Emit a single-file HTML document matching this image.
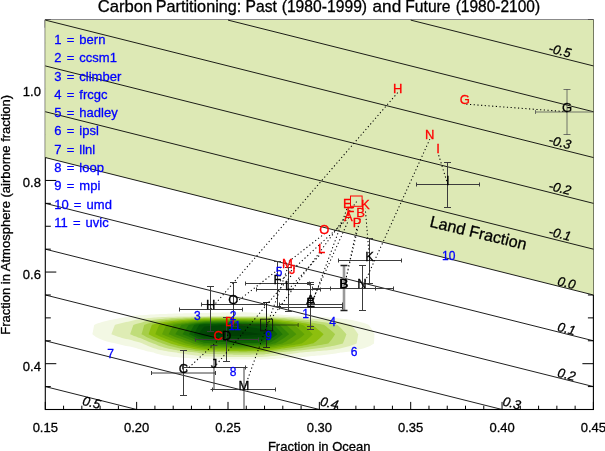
<!DOCTYPE html>
<html><head><meta charset="utf-8"><title>Carbon Partitioning</title>
<style>
html,body{margin:0;padding:0;background:#fff;}
svg{display:block;font-family:"Liberation Sans", Arial, Helvetica, sans-serif;}
text{stroke-width:0.3px;}
.k text,text.k{stroke:#000;}.r text{stroke:#f00;}.b text{stroke:#00f;}
</style></head><body>
<svg width="605" height="451" viewBox="0 0 605 451">
<rect width="605" height="451" fill="#fff"/>
<rect x="45.3" y="20.1" width="548.10" height="389.40" fill="none" stroke="#000" stroke-width="1.1"/>
<path d="M45.30 409.5v-7.6M45.30 20.1v7.6M63.57 409.5v-3.8M63.57 20.1v3.8M81.84 409.5v-3.8M81.84 20.1v3.8M100.11 409.5v-3.8M100.11 20.1v3.8M118.38 409.5v-3.8M118.38 20.1v3.8M136.65 409.5v-7.6M136.65 20.1v7.6M154.92 409.5v-3.8M154.92 20.1v3.8M173.19 409.5v-3.8M173.19 20.1v3.8M191.46 409.5v-3.8M191.46 20.1v3.8M209.73 409.5v-3.8M209.73 20.1v3.8M228.00 409.5v-7.6M228.00 20.1v7.6M246.27 409.5v-3.8M246.27 20.1v3.8M264.54 409.5v-3.8M264.54 20.1v3.8M282.81 409.5v-3.8M282.81 20.1v3.8M301.08 409.5v-3.8M301.08 20.1v3.8M319.35 409.5v-7.6M319.35 20.1v7.6M337.62 409.5v-3.8M337.62 20.1v3.8M355.89 409.5v-3.8M355.89 20.1v3.8M374.16 409.5v-3.8M374.16 20.1v3.8M392.43 409.5v-3.8M392.43 20.1v3.8M410.70 409.5v-7.6M410.70 20.1v7.6M428.97 409.5v-3.8M428.97 20.1v3.8M447.24 409.5v-3.8M447.24 20.1v3.8M465.51 409.5v-3.8M465.51 20.1v3.8M483.78 409.5v-3.8M483.78 20.1v3.8M502.05 409.5v-7.6M502.05 20.1v7.6M520.32 409.5v-3.8M520.32 20.1v3.8M538.59 409.5v-3.8M538.59 20.1v3.8M556.86 409.5v-3.8M556.86 20.1v3.8M575.13 409.5v-3.8M575.13 20.1v3.8M593.40 409.5v-7.6M593.40 20.1v7.6M45.3 409.50h5.5M593.4 409.50h-5.5M45.3 386.59h5.5M593.4 386.59h-5.5M45.3 363.69h11M593.4 363.69h-11M45.3 340.78h5.5M593.4 340.78h-5.5M45.3 317.88h5.5M593.4 317.88h-5.5M45.3 294.97h5.5M593.4 294.97h-5.5M45.3 272.06h11M593.4 272.06h-11M45.3 249.16h5.5M593.4 249.16h-5.5M45.3 226.25h5.5M593.4 226.25h-5.5M45.3 203.35h5.5M593.4 203.35h-5.5M45.3 180.44h11M593.4 180.44h-11M45.3 157.54h5.5M593.4 157.54h-5.5M45.3 134.63h5.5M593.4 134.63h-5.5M45.3 111.72h5.5M593.4 111.72h-5.5M45.3 88.82h11M593.4 88.82h-11M45.3 65.91h5.5M593.4 65.91h-5.5M45.3 43.01h5.5M593.4 43.01h-5.5M45.3 20.10h5.5M593.4 20.10h-5.5" stroke="#000" stroke-width="1" fill="none"/>
<polygon points="45.20,20.00 593.50,20.00 593.50,294.97 45.20,157.54" fill="#dde9b5"/>
<polygon points="135.2,315.7 136.0,315.6 138.0,315.4 140.0,315.3 142.0,315.2 144.0,315.0 146.0,314.9 148.0,314.8 150.0,314.6 152.0,314.5 154.0,314.4 156.0,314.3 158.0,314.2 160.0,314.1 162.0,314.0 164.0,313.9 166.0,313.9 168.0,313.8 170.0,313.7 172.0,313.7 174.0,313.6 176.0,313.6 178.0,313.5 180.0,313.4 182.0,313.4 184.0,313.3 186.0,313.3 188.0,313.2 190.0,313.2 192.0,313.2 194.0,313.1 196.0,313.1 198.0,313.0 200.0,313.0 202.0,313.0 204.0,312.9 206.0,312.9 208.0,312.9 210.0,312.8 212.0,312.8 214.0,312.8 216.0,312.7 218.0,312.7 220.0,312.7 222.0,312.6 224.0,312.6 226.0,312.6 228.0,312.5 230.0,312.5 232.0,312.5 234.0,312.4 236.0,312.4 238.0,312.4 240.0,312.4 242.0,312.3 244.0,312.3 246.0,312.3 248.0,312.4 250.0,312.5 252.0,312.6 254.0,312.7 256.0,312.8 258.0,312.9 260.0,313.1 262.0,313.2 264.0,313.3 266.0,313.4 268.0,313.6 270.0,313.7 272.0,313.9 274.0,314.0 276.0,314.2 278.0,314.3 280.0,314.5 282.0,314.7 284.0,314.9 286.0,315.1 288.0,315.3 290.0,315.5 292.0,315.7 292.0,315.7 294.0,315.7 296.0,315.8 298.0,315.8 300.0,315.9 302.0,315.9 304.0,316.0 306.0,316.1 308.0,316.2 310.0,316.3 312.0,316.4 314.0,316.5 316.0,316.6 318.0,316.8 320.0,316.9 322.0,317.0 324.0,317.2 326.0,317.3 328.0,317.5 330.0,317.7 332.0,317.8 334.0,317.9 336.0,318.1 338.0,318.3 340.0,318.5 342.0,318.7 344.0,318.9 346.0,319.1 348.0,319.4 350.0,319.7 352.0,320.1 354.0,320.5 356.0,320.9 358.0,321.5 360.0,322.0 362.0,322.5 364.0,323.1 366.0,323.7 368.0,324.5 368.9,324.9 370.0,326.4 372.0,329.4 374.0,333.1 374.5,334.2 374.0,343.3 374.0,343.4 372.0,344.8 370.0,345.9 368.0,346.8 366.0,347.6 364.0,348.2 362.0,348.8 360.0,349.3 358.0,349.7 356.0,350.2 354.0,350.7 352.0,351.0 350.0,351.4 348.0,351.7 346.0,352.0 344.0,352.2 342.0,352.4 340.2,352.6 340.0,352.7 338.0,353.0 336.0,353.4 334.0,353.7 332.0,354.0 330.0,354.3 328.0,354.6 326.0,354.8 324.0,355.0 322.0,355.2 320.0,355.4 318.0,355.6 316.0,355.8 314.0,355.9 312.0,356.1 310.0,356.3 308.0,356.5 306.0,356.7 304.0,356.9 302.0,357.1 300.0,357.2 298.0,357.4 296.0,357.5 294.0,357.7 292.0,357.8 290.0,357.9 288.0,358.0 286.0,358.2 284.0,358.3 282.0,358.4 280.0,358.5 278.0,358.6 276.0,358.7 274.0,358.9 272.0,359.0 270.0,359.1 268.0,359.2 266.0,359.2 264.0,359.3 262.0,359.4 260.0,359.4 258.0,359.4 256.0,359.4 254.0,359.4 252.0,359.4 250.0,359.4 248.0,359.4 246.0,359.4 244.0,359.5 242.0,359.4 240.0,359.4 238.0,359.4 236.0,359.4 234.0,359.4 232.0,359.4 230.0,359.4 228.0,359.4 226.0,359.3 224.0,359.3 222.0,359.3 220.0,359.3 218.0,359.3 216.0,359.2 214.0,359.2 212.0,359.2 210.0,359.2 208.0,359.1 206.0,359.1 204.0,359.1 202.0,359.0 200.0,358.9 198.0,358.8 196.0,358.7 194.0,358.6 192.0,358.4 190.0,358.3 188.0,358.1 186.0,358.0 184.0,357.9 182.0,357.7 180.0,357.5 178.0,357.3 176.0,357.1 174.0,356.9 172.0,356.7 170.0,356.4 168.0,356.1 166.0,355.8 164.0,355.4 162.0,355.0 160.0,354.6 158.0,354.0 156.0,353.4 154.0,352.7 153.9,352.6 152.0,352.2 150.0,351.8 148.0,351.4 146.0,350.9 144.0,350.3 142.0,349.7 140.0,349.2 138.0,348.7 136.0,348.1 134.0,347.6 132.0,347.1 130.0,346.6 128.0,346.3 126.0,345.9 124.0,345.5 122.0,345.1 120.0,344.6 118.0,344.1 116.0,343.5 115.6,343.4 114.0,343.1 112.0,342.7 110.0,342.2 108.0,341.7 106.0,341.2 104.0,340.5 102.0,339.8 100.0,339.0 98.0,338.0 96.0,336.9 94.0,335.5 92.4,334.2 94.0,325.8 94.2,324.9 96.0,324.1 98.0,323.3 100.0,322.7 102.0,322.0 104.0,321.5 106.0,321.0 108.0,320.5 110.0,320.1 112.0,319.7 114.0,319.3 116.0,318.9 118.0,318.5 120.0,318.1 122.0,317.7 124.0,317.4 126.0,317.0 128.0,316.7 130.0,316.4 132.0,316.1 134.0,315.8 135.2,315.7" fill="rgb(243,248,228)"/>
<polygon points="114.9,324.9 116.0,324.6 118.0,324.1 120.0,323.6 122.0,323.1 124.0,322.6 126.0,322.1 128.0,321.7 130.0,321.3 132.0,320.7 134.0,320.2 136.0,319.8 138.0,319.5 140.0,319.2 142.0,319.0 144.0,318.6 146.0,318.4 148.0,318.1 150.0,317.9 152.0,317.7 154.0,317.6 156.0,317.4 158.0,317.3 160.0,317.2 162.0,317.1 164.0,317.0 166.0,316.9 168.0,316.8 170.0,316.8 172.0,316.7 174.0,316.7 176.0,316.6 178.0,316.6 180.0,316.5 182.0,316.5 184.0,316.4 186.0,316.4 188.0,316.4 190.0,316.4 192.0,316.3 194.0,316.3 196.0,316.3 198.0,316.2 200.0,316.2 202.0,316.2 204.0,316.2 206.0,316.2 208.0,316.1 210.0,316.1 212.0,316.1 214.0,316.1 216.0,316.1 218.0,316.1 220.0,316.1 222.0,316.1 224.0,316.1 226.0,316.1 228.0,316.1 230.0,316.1 232.0,316.1 234.0,316.1 236.0,316.1 238.0,316.1 240.0,316.0 242.0,316.0 244.0,316.0 246.0,316.0 248.0,316.1 250.0,316.1 252.0,316.1 254.0,316.1 256.0,316.2 258.0,316.2 260.0,316.2 262.0,316.2 264.0,316.3 266.0,316.3 268.0,316.3 270.0,316.4 272.0,316.5 274.0,316.5 276.0,316.6 278.0,316.6 280.0,316.7 282.0,316.8 284.0,316.8 286.0,316.9 288.0,317.0 290.0,317.1 292.0,317.2 294.0,317.3 296.0,317.4 298.0,317.5 300.0,317.6 302.0,317.7 304.0,317.8 306.0,318.0 308.0,318.2 310.0,318.3 312.0,318.5 314.0,318.7 316.0,318.9 318.0,319.1 320.0,319.3 322.0,319.5 324.0,319.7 326.0,320.0 328.0,320.2 330.0,320.5 332.0,320.8 334.0,321.0 336.0,321.3 338.0,321.7 340.0,322.0 342.0,322.4 344.0,322.9 346.0,323.4 348.0,323.9 350.0,324.5 351.2,324.9 352.0,325.8 354.0,328.2 356.0,330.9 358.0,333.9 358.3,334.2 358.0,335.5 356.6,343.4 356.0,343.7 354.0,344.6 352.0,345.3 350.0,346.0 348.0,346.6 346.0,347.1 344.0,347.6 342.0,348.0 340.0,348.4 338.0,348.8 336.0,349.1 334.0,349.4 332.0,349.7 330.0,349.9 328.0,350.2 326.0,350.4 324.0,350.6 322.0,350.8 320.0,350.9 318.0,351.1 316.0,351.3 314.0,351.4 312.0,351.6 310.0,351.8 308.0,352.0 306.0,352.1 304.0,352.3 302.0,352.5 300.2,352.6 300.0,352.6 298.0,352.9 296.0,353.2 294.0,353.5 292.0,353.8 290.0,354.0 288.0,354.3 286.0,354.5 284.0,354.8 282.0,355.0 280.0,355.2 278.0,355.5 276.0,355.7 274.0,355.9 272.0,356.1 270.0,356.3 268.0,356.5 266.0,356.7 264.0,356.8 262.0,356.9 260.0,356.9 258.0,357.0 256.0,357.0 254.0,357.0 252.0,357.0 250.0,357.1 248.0,357.1 246.0,357.1 244.0,357.1 242.0,357.1 240.0,357.1 238.0,357.1 236.0,357.1 234.0,357.1 232.0,357.0 230.0,357.0 228.0,356.9 226.0,356.9 224.0,356.9 222.0,356.8 220.0,356.8 218.0,356.7 216.0,356.7 214.0,356.6 212.0,356.6 210.0,356.5 208.0,356.5 206.0,356.4 204.0,356.4 202.0,356.2 200.0,356.0 198.0,355.8 196.0,355.6 194.0,355.3 192.0,355.0 190.0,354.8 188.0,354.5 186.0,354.2 184.0,354.0 182.0,353.6 180.0,353.3 178.0,352.9 176.6,352.6 176.0,352.5 174.0,352.3 172.0,352.0 170.0,351.7 168.0,351.4 166.0,351.1 164.0,350.7 162.0,350.3 160.0,349.9 158.0,349.4 156.0,348.8 154.0,348.2 152.0,347.5 150.0,346.8 148.0,346.0 146.0,345.1 144.0,344.2 142.6,343.4 142.0,343.2 140.0,342.6 138.0,342.0 136.0,341.4 134.0,340.9 132.0,340.3 130.0,339.7 128.0,339.3 126.0,338.9 124.0,338.4 122.0,337.9 120.0,337.3 118.0,336.7 116.0,336.0 114.0,335.3 112.0,334.5 111.4,334.2 112.0,332.5 114.0,327.2 114.9,324.9" fill="rgb(222,236,180)"/>
<polygon points="133.4,324.9 134.0,324.7 136.0,324.0 138.0,323.5 140.0,322.9 142.0,322.4 144.0,321.8 146.0,321.3 148.0,320.8 150.0,320.4 152.0,320.1 154.0,319.8 156.0,319.5 158.0,319.3 160.0,319.0 162.0,318.9 164.0,318.7 166.0,318.5 168.0,318.4 170.0,318.3 172.0,318.1 174.0,318.0 176.0,317.9 178.0,317.8 180.0,317.8 182.0,317.7 184.0,317.6 186.0,317.5 188.0,317.5 190.0,317.4 192.0,317.3 194.0,317.2 196.0,317.2 198.0,317.1 200.0,317.1 202.0,317.0 204.0,317.0 206.0,317.0 208.0,317.0 210.0,317.0 212.0,316.9 214.0,316.9 216.0,316.9 218.0,316.9 220.0,316.9 222.0,316.9 224.0,316.9 226.0,316.9 228.0,316.9 230.0,316.9 232.0,316.9 234.0,316.9 236.0,316.9 238.0,316.9 240.0,316.9 242.0,316.9 244.0,316.9 246.0,316.9 248.0,316.9 250.0,316.9 252.0,317.0 254.0,317.0 256.0,317.0 258.0,317.0 260.0,317.1 262.0,317.1 264.0,317.1 266.0,317.2 268.0,317.3 270.0,317.4 272.0,317.5 274.0,317.6 276.0,317.7 278.0,317.8 280.0,317.9 282.0,318.0 284.0,318.1 286.0,318.2 288.0,318.4 290.0,318.5 292.0,318.6 294.0,318.8 296.0,318.9 298.0,319.1 300.0,319.3 302.0,319.4 304.0,319.7 306.0,319.9 308.0,320.1 310.0,320.3 312.0,320.6 314.0,320.9 316.0,321.1 318.0,321.4 320.0,321.7 322.0,322.0 324.0,322.3 326.0,322.6 328.0,323.0 330.0,323.3 332.0,323.7 334.0,324.1 336.0,324.6 337.4,324.9 338.0,325.4 340.0,327.3 342.0,329.3 344.0,331.4 346.0,333.7 346.4,334.2 346.0,335.4 344.0,340.7 342.8,343.4 342.0,343.7 340.0,344.2 338.0,344.8 336.0,345.3 334.0,345.7 332.0,346.1 330.0,346.5 328.0,346.8 326.0,347.1 324.0,347.4 322.0,347.7 320.0,348.0 318.0,348.2 316.0,348.5 314.0,348.7 312.0,348.9 310.0,349.2 308.0,349.5 306.0,349.7 304.0,350.0 302.0,350.2 300.0,350.4 298.0,350.6 296.0,350.8 294.0,351.0 292.0,351.2 290.0,351.4 288.0,351.6 286.0,351.7 284.0,351.9 282.0,352.1 280.0,352.3 278.0,352.4 276.3,352.6 276.0,352.6 274.0,353.0 272.0,353.3 270.0,353.6 268.0,353.9 266.0,354.1 264.0,354.4 262.0,354.5 260.0,354.5 258.0,354.5 256.0,354.6 254.0,354.6 252.0,354.6 250.0,354.7 248.0,354.7 246.0,354.7 244.0,354.8 242.0,354.7 240.0,354.7 238.0,354.7 236.0,354.7 234.0,354.7 232.0,354.6 230.0,354.6 228.0,354.5 226.0,354.4 224.0,354.4 222.0,354.3 220.0,354.2 218.0,354.2 216.0,354.1 214.0,354.0 212.0,354.0 210.0,353.9 208.0,353.8 206.0,353.8 204.0,353.7 202.0,353.4 200.0,353.2 198.0,352.8 196.7,352.6 196.0,352.5 194.0,352.3 192.0,352.1 190.0,351.9 188.0,351.7 186.0,351.5 184.0,351.2 182.0,351.0 180.0,350.7 178.0,350.4 176.0,350.1 174.0,349.7 172.0,349.3 170.0,348.9 168.0,348.4 166.0,347.9 164.0,347.4 162.0,346.8 160.0,346.2 158.0,345.4 156.0,344.6 154.0,343.8 153.1,343.4 152.0,343.0 150.0,342.2 148.0,341.5 146.0,340.6 144.0,339.8 142.0,338.8 140.0,338.1 138.0,337.4 136.0,336.6 134.0,335.9 132.0,335.0 130.1,334.2 132.0,328.8 133.4,324.9" fill="rgb(192,221,122)"/>
<polygon points="144.2,324.9 146.0,324.2 148.0,323.6 150.0,323.0 152.0,322.5 154.0,322.0 156.0,321.6 158.0,321.2 160.0,320.9 162.0,320.6 164.0,320.4 166.0,320.1 168.0,319.9 170.0,319.7 172.0,319.6 174.0,319.4 176.0,319.2 178.0,319.1 180.0,319.0 182.0,318.9 184.0,318.8 186.0,318.6 188.0,318.5 190.0,318.4 192.0,318.3 194.0,318.2 196.0,318.1 198.0,318.0 200.0,317.9 202.0,317.9 204.0,317.8 206.0,317.8 208.0,317.8 210.0,317.8 212.0,317.8 214.0,317.7 216.0,317.7 218.0,317.7 220.0,317.7 222.0,317.7 224.0,317.7 226.0,317.7 228.0,317.7 230.0,317.7 232.0,317.7 234.0,317.7 236.0,317.6 238.0,317.7 240.0,317.7 242.0,317.7 244.0,317.7 246.0,317.7 248.0,317.7 250.0,317.8 252.0,317.8 254.0,317.8 256.0,317.8 258.0,317.9 260.0,317.9 262.0,317.9 264.0,318.0 266.0,318.1 268.0,318.2 270.0,318.3 272.0,318.5 274.0,318.6 276.0,318.7 278.0,318.9 280.0,319.1 282.0,319.2 284.0,319.4 286.0,319.6 288.0,319.7 290.0,319.9 292.0,320.1 294.0,320.3 296.0,320.5 298.0,320.7 300.0,321.0 302.0,321.2 304.0,321.5 306.0,321.7 308.0,322.0 310.0,322.4 312.0,322.7 314.0,323.1 316.0,323.4 318.0,323.7 320.0,324.1 322.0,324.4 324.0,324.8 324.3,324.9 326.0,326.3 328.0,327.9 330.0,329.5 332.0,331.3 334.0,333.1 335.1,334.2 334.0,336.1 332.0,339.0 330.0,341.6 328.3,343.4 328.0,343.5 326.0,343.9 324.0,344.3 322.0,344.7 320.0,345.0 318.0,345.3 316.0,345.7 314.0,346.0 312.0,346.3 310.0,346.6 308.0,347.0 306.0,347.3 304.0,347.6 302.0,347.9 300.0,348.2 298.0,348.5 296.0,348.7 294.0,349.0 292.0,349.2 290.0,349.5 288.0,349.7 286.0,349.9 284.0,350.1 282.0,350.4 280.0,350.6 278.0,350.8 276.0,351.1 274.0,351.3 272.0,351.5 270.0,351.7 268.0,351.9 266.0,352.1 264.0,352.2 262.0,352.3 260.0,352.3 258.0,352.3 256.0,352.4 254.0,352.4 252.0,352.4 250.0,352.4 248.0,352.5 246.0,352.5 244.0,352.5 242.0,352.5 240.0,352.5 238.0,352.5 236.0,352.5 234.0,352.4 232.0,352.4 230.0,352.4 228.0,352.3 226.0,352.3 224.0,352.2 222.0,352.2 220.0,352.1 218.0,352.1 216.0,352.0 214.0,352.0 212.0,351.9 210.0,351.9 208.0,351.8 206.0,351.8 204.0,351.7 202.0,351.5 200.0,351.3 198.0,351.1 196.0,350.9 194.0,350.6 192.0,350.3 190.0,350.0 188.0,349.7 186.0,349.5 184.0,349.2 182.0,348.8 180.0,348.4 178.0,348.0 176.0,347.6 174.0,347.1 172.0,346.6 170.0,346.1 168.0,345.4 166.0,344.8 164.0,344.1 162.3,343.4 162.0,343.3 160.0,342.6 158.0,341.9 156.0,341.1 154.0,340.3 152.0,339.5 150.0,338.6 148.0,337.7 146.0,336.7 144.0,335.6 142.0,334.4 141.4,334.2 142.0,332.7 144.0,325.7 144.2,324.9" fill="rgb(166,206,72)"/>
<polygon points="151.8,324.9 152.0,324.8 154.0,324.2 156.0,323.7 158.0,323.2 160.0,322.8 162.0,322.4 164.0,322.1 166.0,321.8 168.0,321.5 170.0,321.2 172.0,321.0 174.0,320.7 176.0,320.6 178.0,320.4 180.0,320.2 182.0,320.1 184.0,319.9 186.0,319.8 188.0,319.6 190.0,319.5 192.0,319.3 194.0,319.2 196.0,319.0 198.0,318.9 200.0,318.8 202.0,318.7 204.0,318.6 206.0,318.6 208.0,318.6 210.0,318.6 212.0,318.6 214.0,318.5 216.0,318.5 218.0,318.5 220.0,318.5 222.0,318.5 224.0,318.5 226.0,318.5 228.0,318.5 230.0,318.5 232.0,318.5 234.0,318.4 236.0,318.4 238.0,318.5 240.0,318.5 242.0,318.5 244.0,318.5 246.0,318.5 248.0,318.6 250.0,318.6 252.0,318.6 254.0,318.7 256.0,318.7 258.0,318.7 260.0,318.8 262.0,318.8 264.0,318.9 266.0,319.0 268.0,319.1 270.0,319.3 272.0,319.5 274.0,319.6 276.0,319.8 278.0,320.0 280.0,320.2 282.0,320.5 284.0,320.7 286.0,320.9 288.0,321.1 290.0,321.3 292.0,321.6 294.0,321.8 296.0,322.1 298.0,322.4 300.0,322.6 302.0,323.0 304.0,323.3 306.0,323.6 308.0,324.0 310.0,324.4 312.0,324.8 312.4,324.9 314.0,326.3 316.0,327.8 318.0,329.4 320.0,331.1 322.0,332.8 323.6,334.2 322.0,336.0 320.0,338.1 318.0,339.8 316.0,341.4 314.0,342.8 313.1,343.4 312.0,343.6 310.0,344.1 308.0,344.5 306.0,344.9 304.0,345.3 302.0,345.7 300.0,346.0 298.0,346.3 296.0,346.6 294.0,346.9 292.0,347.2 290.0,347.5 288.0,347.8 286.0,348.1 284.0,348.4 282.0,348.6 280.0,348.9 278.0,349.2 276.0,349.5 274.0,349.7 272.0,350.0 270.0,350.3 268.0,350.5 266.0,350.7 264.0,350.9 262.0,351.0 260.0,351.0 258.0,351.0 256.0,351.0 254.0,351.1 252.0,351.1 250.0,351.1 248.0,351.1 246.0,351.2 244.0,351.2 242.0,351.2 240.0,351.2 238.0,351.1 236.0,351.1 234.0,351.1 232.0,351.1 230.0,351.0 228.0,351.0 226.0,350.9 224.0,350.8 222.0,350.8 220.0,350.7 218.0,350.7 216.0,350.6 214.0,350.6 212.0,350.5 210.0,350.4 208.0,350.4 206.0,350.3 204.0,350.3 202.0,350.0 200.0,349.8 198.0,349.5 196.0,349.2 194.0,348.9 192.0,348.5 190.0,348.1 188.0,347.8 186.0,347.5 184.0,347.1 182.0,346.6 180.0,346.1 178.0,345.7 176.0,345.1 174.0,344.5 172.0,343.9 170.5,343.4 170.0,343.2 168.0,342.5 166.0,341.8 164.0,341.0 162.0,340.3 160.0,339.5 158.0,338.7 156.0,337.8 154.0,336.9 152.0,336.0 150.0,335.0 148.6,334.2 150.0,329.9 151.8,324.9" fill="rgb(141,191,14)"/>
<polygon points="159.1,324.9 160.0,324.7 162.0,324.2 164.0,323.8 166.0,323.4 168.0,323.0 170.0,322.7 172.0,322.4 174.0,322.1 176.0,321.9 178.0,321.6 180.0,321.4 182.0,321.3 184.0,321.1 186.0,320.9 188.0,320.7 190.0,320.5 192.0,320.3 194.0,320.1 196.0,319.9 198.0,319.8 200.0,319.6 202.0,319.5 204.0,319.4 206.0,319.4 208.0,319.4 210.0,319.4 212.0,319.4 214.0,319.4 216.0,319.3 218.0,319.3 220.0,319.3 222.0,319.3 224.0,319.3 226.0,319.3 228.0,319.3 230.0,319.3 232.0,319.3 234.0,319.2 236.0,319.2 238.0,319.3 240.0,319.3 242.0,319.3 244.0,319.3 246.0,319.3 248.0,319.4 250.0,319.4 252.0,319.5 254.0,319.5 256.0,319.5 258.0,319.6 260.0,319.6 262.0,319.6 264.0,319.7 266.0,319.9 268.0,320.1 270.0,320.3 272.0,320.5 274.0,320.7 276.0,320.9 278.0,321.2 280.0,321.4 282.0,321.7 284.0,321.9 286.0,322.2 288.0,322.5 290.0,322.8 292.0,323.0 294.0,323.4 296.0,323.7 298.0,324.0 300.0,324.3 302.0,324.7 303.0,324.9 304.0,325.7 306.0,327.5 308.0,329.4 310.0,331.4 312.0,333.4 312.8,334.2 312.0,335.0 310.0,337.0 308.0,338.8 306.0,340.5 304.0,342.0 302.0,343.3 301.9,343.4 300.0,343.8 298.0,344.2 296.0,344.5 294.0,344.9 292.0,345.3 290.0,345.6 288.0,345.9 286.0,346.3 284.0,346.6 282.0,346.9 280.0,347.3 278.0,347.6 276.0,347.9 274.0,348.2 272.0,348.5 270.0,348.8 268.0,349.1 266.0,349.3 264.0,349.6 262.0,349.7 260.0,349.7 258.0,349.7 256.0,349.7 254.0,349.7 252.0,349.8 250.0,349.8 248.0,349.8 246.0,349.8 244.0,349.8 242.0,349.8 240.0,349.8 238.0,349.8 236.0,349.8 234.0,349.8 232.0,349.7 230.0,349.7 228.0,349.6 226.0,349.5 224.0,349.5 222.0,349.4 220.0,349.3 218.0,349.3 216.0,349.2 214.0,349.2 212.0,349.1 210.0,349.0 208.0,348.9 206.0,348.9 204.0,348.8 202.0,348.5 200.0,348.3 198.0,347.9 196.0,347.6 194.0,347.1 192.0,346.7 190.0,346.3 188.0,345.9 186.0,345.5 184.0,345.0 182.0,344.4 180.0,343.9 178.4,343.4 178.0,343.3 176.0,342.6 174.0,341.9 172.0,341.1 170.0,340.4 168.0,339.6 166.0,338.9 164.0,338.1 162.0,337.2 160.0,336.4 158.0,335.5 156.0,334.5 155.3,334.2 156.0,332.3 158.0,327.4 159.1,324.9" fill="rgb(116,176,6)"/>
<polygon points="166.3,324.9 168.0,324.5 170.0,324.2 172.0,323.8 174.0,323.5 176.0,323.2 178.0,322.9 180.0,322.7 182.0,322.4 184.0,322.2 186.0,322.0 188.0,321.8 190.0,321.6 192.0,321.3 194.0,321.1 196.0,320.9 198.0,320.7 200.0,320.5 202.0,320.4 204.0,320.2 206.0,320.2 208.0,320.2 210.0,320.2 212.0,320.2 214.0,320.2 216.0,320.1 218.0,320.1 220.0,320.1 222.0,320.1 224.0,320.1 226.0,320.1 228.0,320.1 230.0,320.1 232.0,320.0 234.0,320.0 236.0,320.0 238.0,320.1 240.0,320.1 242.0,320.1 244.0,320.1 246.0,320.2 248.0,320.2 250.0,320.3 252.0,320.3 254.0,320.3 256.0,320.4 258.0,320.4 260.0,320.5 262.0,320.5 264.0,320.6 266.0,320.8 268.0,321.0 270.0,321.2 272.0,321.5 274.0,321.7 276.0,322.0 278.0,322.3 280.0,322.6 282.0,322.9 284.0,323.2 286.0,323.5 288.0,323.8 290.0,324.2 292.0,324.5 294.0,324.9 294.1,324.9 296.0,326.6 298.0,328.3 300.0,330.0 302.0,331.8 304.0,333.7 304.5,334.2 304.0,334.7 302.0,336.4 300.0,337.9 298.0,339.3 296.0,340.6 294.0,341.9 292.0,343.1 291.4,343.4 290.0,343.7 288.0,344.1 286.0,344.5 284.0,344.8 282.0,345.2 280.0,345.6 278.0,346.0 276.0,346.3 274.0,346.7 272.0,347.0 270.0,347.4 268.0,347.7 266.0,348.0 264.0,348.2 262.0,348.4 260.0,348.4 258.0,348.4 256.0,348.4 254.0,348.4 252.0,348.4 250.0,348.5 248.0,348.5 246.0,348.5 244.0,348.5 242.0,348.5 240.0,348.5 238.0,348.5 236.0,348.5 234.0,348.5 232.0,348.4 230.0,348.3 228.0,348.3 226.0,348.2 224.0,348.1 222.0,348.0 220.0,348.0 218.0,347.9 216.0,347.8 214.0,347.7 212.0,347.7 210.0,347.6 208.0,347.5 206.0,347.4 204.0,347.3 202.0,347.0 200.0,346.7 198.0,346.3 196.0,345.9 194.0,345.4 192.0,344.9 190.0,344.4 188.0,343.9 186.0,343.5 185.7,343.4 184.0,342.7 182.0,342.0 180.0,341.3 178.0,340.6 176.0,339.9 174.0,339.1 172.0,338.4 170.0,337.6 168.0,336.8 166.0,336.0 164.0,335.1 162.0,334.2 164.0,329.7 166.0,325.6 166.3,324.9" fill="rgb(95,161,5)"/>
<polygon points="173.6,324.9 174.0,324.8 176.0,324.5 178.0,324.2 180.0,323.9 182.0,323.6 184.0,323.4 186.0,323.1 188.0,322.9 190.0,322.6 192.0,322.3 194.0,322.0 196.0,321.8 198.0,321.5 200.0,321.4 202.0,321.2 204.0,321.0 206.0,321.0 208.0,321.0 210.0,321.0 212.0,321.0 214.0,321.0 216.0,321.0 218.0,320.9 220.0,320.9 222.0,320.9 224.0,320.9 226.0,320.9 228.0,320.9 230.0,320.9 232.0,320.8 234.0,320.8 236.0,320.8 238.0,320.9 240.0,320.9 242.0,320.9 244.0,321.0 246.0,321.0 248.0,321.0 250.0,321.1 252.0,321.1 254.0,321.2 256.0,321.2 258.0,321.3 260.0,321.3 262.0,321.4 264.0,321.5 266.0,321.7 268.0,321.9 270.0,322.2 272.0,322.5 274.0,322.8 276.0,323.1 278.0,323.4 280.0,323.8 282.0,324.1 284.0,324.5 286.0,324.8 286.3,324.9 288.0,326.4 290.0,328.3 292.0,330.0 294.0,331.9 296.0,333.8 296.4,334.2 296.0,334.5 294.0,336.1 292.0,337.5 290.0,338.8 288.0,340.1 286.0,341.4 284.0,342.5 282.3,343.4 282.0,343.5 280.0,343.9 278.0,344.3 276.0,344.8 274.0,345.2 272.0,345.6 270.0,345.9 268.0,346.3 266.0,346.6 264.0,346.9 262.0,347.0 260.0,347.1 258.0,347.1 256.0,347.1 254.0,347.1 252.0,347.1 250.0,347.1 248.0,347.1 246.0,347.2 244.0,347.2 242.0,347.2 240.0,347.2 238.0,347.2 236.0,347.2 234.0,347.1 232.0,347.1 230.0,347.0 228.0,346.9 226.0,346.8 224.0,346.7 222.0,346.7 220.0,346.6 218.0,346.5 216.0,346.4 214.0,346.3 212.0,346.2 210.0,346.2 208.0,346.1 206.0,346.0 204.0,345.9 202.0,345.5 200.0,345.2 198.0,344.7 196.0,344.2 194.0,343.7 193.0,343.4 192.0,343.0 190.0,342.2 188.0,341.5 186.0,340.9 184.0,340.1 182.0,339.3 180.0,338.6 178.0,337.9 176.0,337.2 174.0,336.4 172.0,335.6 170.0,334.8 168.6,334.2 170.0,331.4 172.0,327.7 173.6,324.9" fill="rgb(71,146,5)"/>
<polygon points="181.5,324.9 182.0,324.8 184.0,324.5 186.0,324.2 188.0,323.9 190.0,323.6 192.0,323.3 194.0,323.0 196.0,322.7 198.0,322.4 200.0,322.2 202.0,322.0 204.0,321.9 206.0,321.8 208.0,321.8 210.0,321.8 212.0,321.8 214.0,321.8 216.0,321.8 218.0,321.7 220.0,321.7 222.0,321.7 224.0,321.7 226.0,321.7 228.0,321.7 230.0,321.7 232.0,321.6 234.0,321.6 236.0,321.6 238.0,321.7 240.0,321.7 242.0,321.7 244.0,321.8 246.0,321.8 248.0,321.9 250.0,321.9 252.0,322.0 254.0,322.0 256.0,322.1 258.0,322.1 260.0,322.2 262.0,322.2 264.0,322.3 266.0,322.6 268.0,322.9 270.0,323.2 272.0,323.5 274.0,323.8 276.0,324.2 278.0,324.6 279.7,324.9 280.0,325.2 282.0,327.2 284.0,329.2 286.0,331.1 288.0,333.1 289.2,334.2 288.0,335.1 286.0,336.5 284.0,337.9 282.0,339.2 280.0,340.5 278.0,341.7 276.0,342.9 275.1,343.4 274.0,343.6 272.0,344.1 270.0,344.5 268.0,344.9 266.0,345.3 264.0,345.6 262.0,345.7 260.0,345.7 258.0,345.8 256.0,345.8 254.0,345.8 252.0,345.8 250.0,345.8 248.0,345.8 246.0,345.8 244.0,345.8 242.0,345.8 240.0,345.8 238.0,345.8 236.0,345.8 234.0,345.8 232.0,345.7 230.0,345.6 228.0,345.5 226.0,345.5 224.0,345.4 222.0,345.3 220.0,345.2 218.0,345.1 216.0,345.0 214.0,344.9 212.0,344.8 210.0,344.7 208.0,344.6 206.0,344.5 204.0,344.4 202.0,344.0 200.0,343.6 199.1,343.4 198.0,343.0 196.0,342.2 194.0,341.4 192.0,340.6 190.0,339.7 188.0,338.9 186.0,338.2 184.0,337.4 182.0,336.7 180.0,335.9 178.0,335.2 176.0,334.5 175.3,334.2 176.0,333.1 178.0,329.9 180.0,327.0 181.5,324.9" fill="rgb(50,131,5)"/>
<polygon points="188.7,324.9 190.0,324.7 192.0,324.3 194.0,324.0 196.0,323.6 198.0,323.3 200.0,323.1 202.0,322.9 204.0,322.7 206.0,322.6 208.0,322.6 210.0,322.6 212.0,322.6 214.0,322.6 216.0,322.6 218.0,322.5 220.0,322.5 222.0,322.5 224.0,322.5 226.0,322.5 228.0,322.5 230.0,322.5 232.0,322.4 234.0,322.4 236.0,322.4 238.0,322.5 240.0,322.5 242.0,322.6 244.0,322.6 246.0,322.6 248.0,322.7 250.0,322.7 252.0,322.8 254.0,322.9 256.0,322.9 258.0,323.0 260.0,323.0 262.0,323.1 264.0,323.2 266.0,323.5 268.0,323.8 270.0,324.1 272.0,324.5 274.0,324.9 274.1,324.9 276.0,326.9 278.0,329.1 280.0,331.2 282.0,333.4 282.8,334.2 282.0,334.8 280.0,336.3 278.0,337.7 276.0,339.1 274.0,340.3 272.0,341.5 270.0,342.6 268.5,343.4 268.0,343.5 266.0,343.9 264.0,344.2 262.0,344.4 260.0,344.4 258.0,344.4 256.0,344.5 254.0,344.5 252.0,344.5 250.0,344.5 248.0,344.5 246.0,344.5 244.0,344.5 242.0,344.5 240.0,344.5 238.0,344.5 236.0,344.5 234.0,344.5 232.0,344.4 230.0,344.3 228.0,344.2 226.0,344.1 224.0,344.0 222.0,343.9 220.0,343.8 218.0,343.7 216.0,343.6 214.0,343.5 212.1,343.4 212.0,343.4 210.0,343.2 208.0,343.1 206.0,342.9 204.0,342.8 202.0,342.1 200.0,341.5 198.0,340.8 196.0,339.9 194.0,339.0 192.0,338.1 190.0,337.2 188.0,336.3 186.0,335.6 184.0,334.8 182.6,334.2 184.0,332.0 186.0,328.9 188.0,326.0 188.7,324.9" fill="rgb(31,116,5)"/>
<polygon points="194.2,324.9 196.0,324.6 198.0,324.2 200.0,323.9 202.0,323.7 204.0,323.5 206.0,323.5 208.0,323.4 210.0,323.4 212.0,323.4 214.0,323.4 216.0,323.4 218.0,323.3 220.0,323.3 222.0,323.3 224.0,323.3 226.0,323.3 228.0,323.3 230.0,323.2 232.0,323.2 234.0,323.2 236.0,323.2 238.0,323.3 240.0,323.3 242.0,323.4 244.0,323.4 246.0,323.5 248.0,323.5 250.0,323.6 252.0,323.6 254.0,323.7 256.0,323.7 258.0,323.8 260.0,323.9 262.0,323.9 264.0,324.1 266.0,324.4 268.0,324.7 269.0,324.9 270.0,325.9 272.0,328.1 274.0,330.4 276.0,332.6 277.4,334.2 276.0,335.2 274.0,336.7 272.0,338.1 270.0,339.3 268.0,340.5 266.0,341.5 264.0,342.3 262.0,342.8 260.0,342.8 258.0,342.8 256.0,342.9 254.0,342.9 252.0,342.9 250.0,342.9 248.0,342.9 246.0,343.0 244.0,343.0 242.0,343.0 240.0,343.0 238.0,343.0 236.0,343.0 234.0,343.0 232.0,342.8 230.0,342.6 228.0,342.5 226.0,342.3 224.0,342.1 222.0,342.0 220.0,341.8 218.0,341.7 216.0,341.5 214.0,341.4 212.0,341.2 210.0,341.1 208.0,340.9 206.0,340.8 204.0,340.6 202.0,339.9 200.0,339.3 198.0,338.5 196.0,337.6 194.0,336.6 192.0,335.6 190.0,334.6 189.0,334.2 190.0,332.6 192.0,328.8 194.0,325.2 194.2,324.9" fill="rgb(14,98,5)"/>
<polygon points="199.3,324.9 200.0,324.8 202.0,324.5 204.0,324.3 206.0,324.3 208.0,324.2 210.0,324.2 212.0,324.2 214.0,324.2 216.0,324.2 218.0,324.2 220.0,324.1 222.0,324.1 224.0,324.1 226.0,324.1 228.0,324.1 230.0,324.0 232.0,324.0 234.0,324.0 236.0,324.0 238.0,324.1 240.0,324.1 242.0,324.2 244.0,324.2 246.0,324.3 248.0,324.4 250.0,324.4 252.0,324.5 254.0,324.5 256.0,324.6 258.0,324.6 260.0,324.7 262.0,324.8 263.4,324.9 264.0,325.2 266.0,327.1 268.0,329.0 270.0,331.2 272.0,333.6 272.5,334.2 272.0,334.6 270.0,336.0 268.0,337.4 266.0,338.4 264.0,339.4 262.0,339.9 260.0,340.0 258.0,340.1 256.0,340.1 254.0,340.2 252.0,340.3 250.0,340.3 248.0,340.4 246.0,340.5 244.0,340.5 242.0,340.6 240.0,340.6 238.0,340.7 236.0,340.7 234.0,340.6 232.0,340.5 230.0,340.3 228.0,340.2 226.0,340.0 224.0,339.9 222.0,339.7 220.0,339.6 218.0,339.4 216.0,339.3 214.0,339.2 212.0,339.0 210.0,338.9 208.0,338.7 206.0,338.6 204.0,338.5 202.0,337.8 200.0,337.0 198.0,336.2 196.0,335.2 194.0,334.2 196.0,330.3 198.0,326.7 199.3,324.9" fill="rgb(6,84,5)"/>
<polygon points="223.9,324.9 224.0,324.9 226.0,324.9 228.0,324.9 230.0,324.8 232.0,324.8 234.0,324.8 236.0,324.8 238.0,324.9 238.6,324.9 240.0,325.2 242.0,325.6 244.0,326.0 246.0,326.3 248.0,326.7 250.0,327.1 252.0,327.4 254.0,327.8 256.0,328.1 258.0,328.4 260.0,328.8 262.0,329.1 264.0,330.2 266.0,332.2 268.0,334.2 266.0,335.4 264.0,336.5 262.0,337.1 260.0,337.2 258.0,337.3 256.0,337.4 254.0,337.5 252.0,337.7 250.0,337.7 248.0,337.8 246.0,337.9 244.0,338.0 242.0,338.1 240.0,338.2 238.0,338.3 236.0,338.4 234.0,338.3 232.0,338.2 230.0,338.0 228.0,337.9 226.0,337.8 224.0,337.6 222.0,337.5 220.0,337.4 218.0,337.2 216.0,337.1 214.0,337.0 212.0,336.8 210.0,336.7 208.0,336.6 206.0,336.5 204.0,336.3 202.0,335.6 200.0,334.8 198.6,334.2 200.0,332.0 202.0,329.2 204.0,326.7 206.0,326.5 208.0,326.3 210.0,326.1 212.0,325.9 214.0,325.7 216.0,325.5 218.0,325.4 220.0,325.2 222.0,325.0 223.9,324.9" fill="rgb(2,72,5)"/>
<polygon points="204.0,334.2 206.0,333.8 208.0,333.5 210.0,333.1 212.0,332.8 214.0,332.5 216.0,332.2 218.0,331.9 220.0,331.6 222.0,331.3 224.0,331.0 226.0,330.8 228.0,330.5 230.0,330.3 232.0,330.1 234.0,329.8 236.0,329.9 238.0,330.3 240.0,330.6 242.0,331.0 244.0,331.3 246.0,331.6 248.0,331.9 250.0,332.3 252.0,332.6 254.0,332.9 256.0,333.2 258.0,333.5 260.0,333.8 262.0,334.1 262.2,334.2 262.0,334.3 260.0,334.4 258.0,334.6 256.0,334.7 254.0,334.9 252.0,335.0 250.0,335.2 248.0,335.3 246.0,335.4 244.0,335.5 242.0,335.7 240.0,335.8 238.0,335.9 236.0,336.0 234.0,336.0 232.0,335.9 230.0,335.7 228.0,335.6 226.0,335.5 224.0,335.4 222.0,335.2 220.0,335.1 218.0,335.0 216.0,334.9 214.0,334.8 212.0,334.7 210.0,334.5 208.0,334.4 206.0,334.3 204.0,334.2" fill="rgb(0,62,4)"/>
<path d="M410.70 20.10L593.40 65.91M228.00 20.10L593.40 111.72M45.30 20.10L593.40 157.54M45.30 65.91L593.40 203.35M45.30 111.72L593.40 249.16M45.30 157.54L593.40 294.97M45.30 203.35L593.40 340.78M45.30 249.16L593.40 386.59M45.30 294.97L502.05 409.50M45.30 340.78L319.35 409.50M45.30 386.59L136.65 409.50" stroke="#000" stroke-width="0.88" fill="none"/>
<g class="k" fill="#000"><text x="548.0" y="52.23" transform="rotate(14.08 548.0 52.23)" font-size="13" font-style="italic">-0.5</text>
<text x="548.0" y="143.85" transform="rotate(14.08 548.0 143.85)" font-size="13" font-style="italic">-0.3</text>
<text x="548.0" y="189.66" transform="rotate(14.08 548.0 189.66)" font-size="13" font-style="italic">-0.2</text>
<text x="548.0" y="235.47" transform="rotate(14.08 548.0 235.47)" font-size="13" font-style="italic">-0.1</text>
<text x="556.8" y="284.99" transform="rotate(14.08 556.8 284.99)" font-size="13" font-style="italic">0.0</text>
<text x="556.8" y="330.8" transform="rotate(14.08 556.8 330.8)" font-size="13" font-style="italic">0.1</text>
<text x="556.8" y="376.62" transform="rotate(14.08 556.8 376.62)" font-size="13" font-style="italic">0.2</text>
<text x="81.7" y="404.7" transform="rotate(14.08 81.7 404.7)" font-size="13" font-style="italic">0.5</text>
<text x="319.5" y="405.2" transform="rotate(14.08 319.5 405.2)" font-size="13" font-style="italic">0.4</text>
<text x="502.0" y="405.3" transform="rotate(14.08 502.0 405.3)" font-size="13" font-style="italic">0.3</text>
<text x="429.0" y="226.6" transform="rotate(13.6 429.0 226.6)" font-size="16.2">Land Fraction</text></g>
<clipPath id="cp"><rect x="45.3" y="20.1" width="548.10" height="389.40"/></clipPath>
<path d="M344 266V310" stroke="#999" stroke-width="2.6" fill="none"/><path d="M340.5 310.5h7M340.5 265.5h7" stroke="#222" stroke-width="1.3" fill="none"/>
<path clip-path="url(#cp)" d="M535.0 112.0H599.0M535.5 110.0v4.0M598.5 110.0v4.0M567.0 89.0V135.0M563.5 89.5h7.0M563.5 134.5h7.0" stroke="#555" stroke-opacity="0.8" stroke-width="1" fill="none"/>
<path clip-path="url(#cp)" d="M279.0 304.5H343.0M279.5 302.5v4.0M342.5 302.5v4.0M310.5 282.0V327.0M307.0 282.5h7.0M307.0 326.5h7.0M312.0 288.5H376.0M312.5 286.5v4.0M375.5 286.5v4.0M151.0 373.0H216.0M151.5 371.0v4.0M215.5 371.0v4.0M183.5 350.0V396.0M180.0 350.5h7.0M180.0 395.5h7.0M195.0 339.5H259.0M195.5 337.5v4.0M258.5 337.5v4.0M226.5 317.0V362.0M223.0 317.5h7.0M223.0 361.5h7.0M279.0 307.5H343.0M279.5 305.5v4.0M342.5 305.5v4.0M310.5 284.0V330.0M307.0 284.5h7.0M307.0 329.5h7.0M245.0 283.5H310.0M245.5 281.5v4.0M309.5 281.5v4.0M277.5 261.0V307.0M274.0 261.5h7.0M274.0 306.5h7.0M179.0 309.5H243.0M179.5 307.5v4.0M242.5 307.5v4.0M210.5 286.0V332.0M207.0 286.5h7.0M207.0 331.5h7.0M416.0 184.5H480.0M416.5 182.5v4.0M479.5 182.5v4.0M447.5 162.0V208.0M444.0 162.5h7.0M444.0 207.5h7.0M182.0 367.5H246.0M182.5 365.5v4.0M245.5 365.5v4.0M214.0 345.0V390.0M210.5 345.5h7.0M210.5 389.5h7.0M338.0 260.5H402.0M338.5 258.5v4.0M401.5 258.5v4.0M369.5 238.0V284.0M366.0 238.5h7.0M366.0 283.5h7.0M256.0 289.5H321.0M256.5 287.5v4.0M320.5 287.5v4.0M288.5 267.0V312.0M285.0 267.5h7.0M285.0 311.5h7.0M212.0 389.5H276.0M212.5 387.5v4.0M275.5 387.5v4.0M244.0 367.0V412.0M240.5 367.5h7.0M240.5 411.5h7.0M330.0 288.5H394.0M330.5 286.5v4.0M393.5 286.5v4.0M362.5 265.0V311.0M359.0 265.5h7.0M359.0 310.5h7.0M201.0 304.5H265.0M201.5 302.5v4.0M264.5 302.5v4.0M233.5 282.0V327.0M230.0 282.5h7.0M230.0 326.5h7.0" stroke="#3c3c3c" stroke-width="1" fill="none"/>
<path d="M235.0 325H298.2M235.0 323v4M298.2 323v4" stroke="#2a3a10" stroke-opacity="0.75" stroke-width="1" fill="none"/>
<path d="M266.5 302V348M263 302.5h7M263 347.5h7" stroke="#222" stroke-width="1" fill="none"/>
<path d="M310.6 304.5L348.4 220.6M343.7 288.3L360.6 216.6M183.5 372.6L218.2 340.3M226.7 339.5L229.6 325.8M310.6 307.3L347.3 207.8M277.4 283.6L350.4 216.2M567.1 111.7L464.9 104.1M210.7 309.1L397.8 92.5M447.8 184.6L438.0 153.0M214.0 367.5L292.3 274.3M369.6 260.6L365.3 208.9M288.5 289.5L321.6 252.9M244.0 389.5L287.5 268.3M362.0 288.2L429.8 139.3M233.3 304.4L324.3 233.9M344.0 288.0L357.0 227.2M266.6 325.0L356.6 201.6" stroke="#000" stroke-width="1.05" stroke-dasharray="1.2 2.5" fill="none"/>
<rect x="260.6" y="319.2" width="12" height="11.6" fill="none" stroke="#111" stroke-width="0.9"/>
<rect x="350.5" y="196.0" width="11.6" height="10.3" fill="none" stroke="#f00" stroke-width="1"/>
<g class="k" fill="#000" font-size="13" text-anchor="middle" style="stroke-width:0.5px"><text x="310.6" y="303.5">A</text><text x="343.7" y="288.3">B</text><text x="183.5" y="372.6">C</text><text x="226.7" y="339.5">D</text><text x="310.6" y="307.3">E</text><text x="277.4" y="283.6">F</text><text x="567.1" y="111.7">G</text><text x="210.7" y="309.1">H</text><text x="447.8" y="184.6">I</text><text x="214.0" y="367.5">J</text><text x="369.6" y="260.6">K</text><text x="288.5" y="289.5">L</text><text x="244.0" y="389.5">M</text><text x="362.0" y="288.2">N</text><text x="233.3" y="304.4">O</text><text x="344.0" y="288.0">B</text></g>
<g class="r" fill="#f00" font-size="13" text-anchor="middle"><text x="348.4" y="220.6">A</text><text x="360.6" y="216.6">B</text><text x="218.2" y="340.3">C</text><text x="229.6" y="325.8">D</text><text x="347.3" y="207.8">E</text><text x="350.4" y="216.2">F</text><text x="464.9" y="104.1">G</text><text x="397.8" y="92.5">H</text><text x="438.0" y="153.0">I</text><text x="292.3" y="274.3">J</text><text x="365.3" y="208.9">K</text><text x="321.6" y="252.9">L</text><text x="287.5" y="268.3">M</text><text x="429.8" y="139.3">N</text><text x="324.3" y="233.9">O</text><text x="357.0" y="227.2">P</text></g>
<g class="b" fill="#00f" font-size="12" text-anchor="middle"><text x="305.6" y="317.5">1</text><text x="233.0" y="320.3">2</text><text x="197.3" y="320.0">3</text><text x="332.6" y="325.6">4</text><text x="279.0" y="276.3">5</text><text x="354.2" y="356.2">6</text><text x="110.5" y="357.5">7</text><text x="233.2" y="376.2">8</text><text x="268.6" y="339.6">9</text><text x="448.8" y="260.1">10</text><text x="234.6" y="330.3">11</text></g>
<g class="b" fill="#00f" font-size="13" word-spacing="1.5"><text x="54.3" y="43.9">1 = bern</text><text x="54.3" y="62.2">2 = ccsm1</text><text x="54.3" y="80.5">3 = climber</text><text x="54.3" y="98.8">4 = frcgc</text><text x="54.3" y="117.1">5 = hadley</text><text x="54.3" y="135.3">6 = ipsl</text><text x="54.3" y="153.6">7 = llnl</text><text x="54.3" y="171.9">8 = loop</text><text x="54.3" y="190.2">9 = mpi</text><text x="54.3" y="208.5">10 = umd</text><text x="54.3" y="226.8">11 = uvic</text></g>
<g class="k" fill="#000" font-size="13"><text x="45.3" y="432.2" text-anchor="middle">0.15</text><text x="136.7" y="432.2" text-anchor="middle">0.20</text><text x="228.0" y="432.2" text-anchor="middle">0.25</text><text x="319.4" y="432.2" text-anchor="middle">0.30</text><text x="410.7" y="432.2" text-anchor="middle">0.35</text><text x="502.1" y="432.2" text-anchor="middle">0.40</text><text x="593.4" y="432.2" text-anchor="middle">0.45</text><text x="40.9" y="370.6" text-anchor="end">0.4</text><text x="40.9" y="279.0" text-anchor="end">0.6</text><text x="40.9" y="187.3" text-anchor="end">0.8</text><text x="40.9" y="95.7" text-anchor="end">1.0</text><text x="319.2" y="450.6" text-anchor="middle">Fraction in Ocean</text><text x="10.1" y="214.8" text-anchor="middle" transform="rotate(-90 10.1 214.8)">Fraction in Atmosphere (airborne fraction)</text></g>
<g class="k" fill="#000" font-size="16.2"><text x="97.8" y="11.7" textLength="54.5" lengthAdjust="spacingAndGlyphs">Carbon</text><text x="155.7" y="11.7" textLength="85.6" lengthAdjust="spacingAndGlyphs">Partitioning:</text><text x="245.6" y="11.7" textLength="31.4" lengthAdjust="spacingAndGlyphs">Past</text><text x="281.7" y="11.7" textLength="85.4" lengthAdjust="spacingAndGlyphs">(1980-1999)</text><text x="372.6" y="11.7" textLength="28.6" lengthAdjust="spacingAndGlyphs">and</text><text x="405.3" y="11.7" textLength="45.2" lengthAdjust="spacingAndGlyphs">Future</text><text x="455.7" y="11.7" textLength="84.4" lengthAdjust="spacingAndGlyphs">(1980-2100)</text></g>
</svg>
</body></html>
